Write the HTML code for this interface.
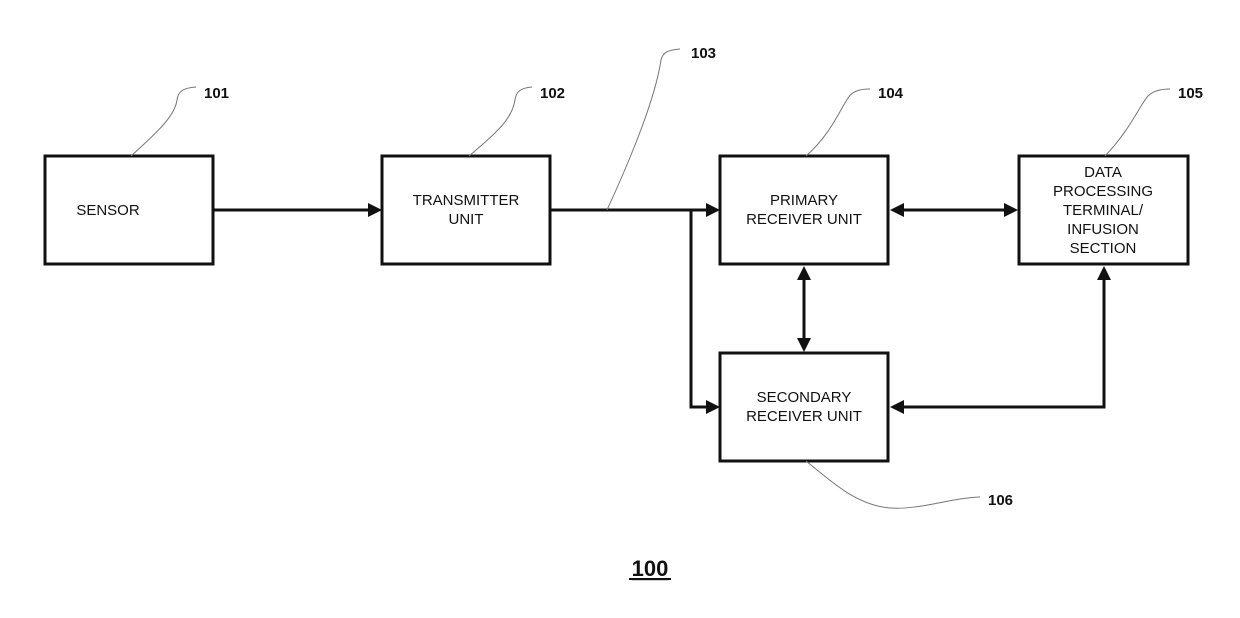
<!DOCTYPE html>
<html><head><meta charset="utf-8"><style>
html,body{margin:0;padding:0;background:#fff;}
svg{display:block;}
text{font-family:"Liberation Sans",Arial,sans-serif;fill:#111;}
.b{font-weight:bold;font-size:15px;}
.t{font-size:15px;}
</style></head><body>
<svg width="1240" height="618" viewBox="0 0 1240 618" xmlns="http://www.w3.org/2000/svg">
<defs>
<marker id="a" markerWidth="10" markerHeight="10" refX="9" refY="5" orient="auto" markerUnits="userSpaceOnUse">
<path d="M0,0 L14,5 L0,10 z" fill="#111"/></marker>
<marker id="s" markerWidth="14" markerHeight="12" refX="1" refY="6" orient="auto-start-reverse" markerUnits="userSpaceOnUse">
<path d="M0,0 L14,6 L0,12 z" fill="#111"/></marker>
</defs>
<g fill="#fff" stroke="#111" stroke-width="3">
<rect x="45" y="156" width="168" height="108"/>
<rect x="382" y="156" width="168" height="108"/>
<rect x="720" y="156" width="168" height="108"/>
<rect x="1019" y="156" width="169" height="108"/>
<rect x="720" y="353" width="168" height="108"/>
</g>
<g stroke="#111" stroke-width="3" fill="none">
<line x1="213" y1="210" x2="368" y2="210"/>
<line x1="550" y1="210" x2="706" y2="210"/>
<polyline points="691,210 691,407 706,407"/>
<line x1="904" y1="210" x2="1004" y2="210"/>
<line x1="804" y1="280" x2="804" y2="338"/>
<polyline points="904,407 1104,407 1104,280"/>
</g>
<g fill="#111">
<path d="M368,203 L382,210 L368,217 z"/>
<path d="M706,203 L720,210 L706,217 z"/>
<path d="M706,400 L720,407 L706,414 z"/>
<path d="M904,203 L890,210 L904,217 z"/>
<path d="M1004,203 L1018,210 L1004,217 z"/>
<path d="M797,280 L804,266 L811,280 z"/>
<path d="M797,338 L804,352 L811,338 z"/>
<path d="M904,400 L890,407 L904,414 z"/>
<path d="M1097,280 L1104,266 L1111,280 z"/>
</g>
<g stroke="#777" stroke-width="1" fill="none">
<path d="M131,156 C160,130 175,115 177,100 C178,92 182,88 196,87"/>
<path d="M469,156 C500,130 512,118 515,100 C516,92 520,88 532,87"/>
<path d="M607,210 C630,160 655,100 661,60 C663,52 668,50 680,49"/>
<path d="M806,156 C830,135 840,110 848,98 C852,92 858,89 870,89"/>
<path d="M1105,156 C1130,130 1140,105 1148,96 C1152,92 1158,89 1170,89"/>
<path d="M806,461 C830,480 855,505 890,508 C920,510 950,498 980,497"/>
</g>
<text class="b" x="204" y="98">101</text>
<text class="b" x="540" y="98">102</text>
<text class="b" x="691" y="58">103</text>
<text class="b" x="878" y="98">104</text>
<text class="b" x="1178" y="98">105</text>
<text class="b" x="988" y="505">106</text>
<g class="t" text-anchor="middle">
<text x="108" y="215">SENSOR</text>
<text x="466" y="205">TRANSMITTER</text>
<text x="466" y="224">UNIT</text>
<text x="804" y="205">PRIMARY</text>
<text x="804" y="224">RECEIVER UNIT</text>
<text x="1103" y="177">DATA</text>
<text x="1103" y="196">PROCESSING</text>
<text x="1103" y="215">TERMINAL/</text>
<text x="1103" y="234">INFUSION</text>
<text x="1103" y="253">SECTION</text>
<text x="804" y="402">SECONDARY</text>
<text x="804" y="421">RECEIVER UNIT</text>
</g>
<text x="650" y="576" text-anchor="middle" style="font-weight:bold;font-size:22px;text-decoration:underline;">100</text>
<line x1="629" y1="579" x2="671" y2="579" stroke="#111" stroke-width="2"/>
</svg>
</body></html>
